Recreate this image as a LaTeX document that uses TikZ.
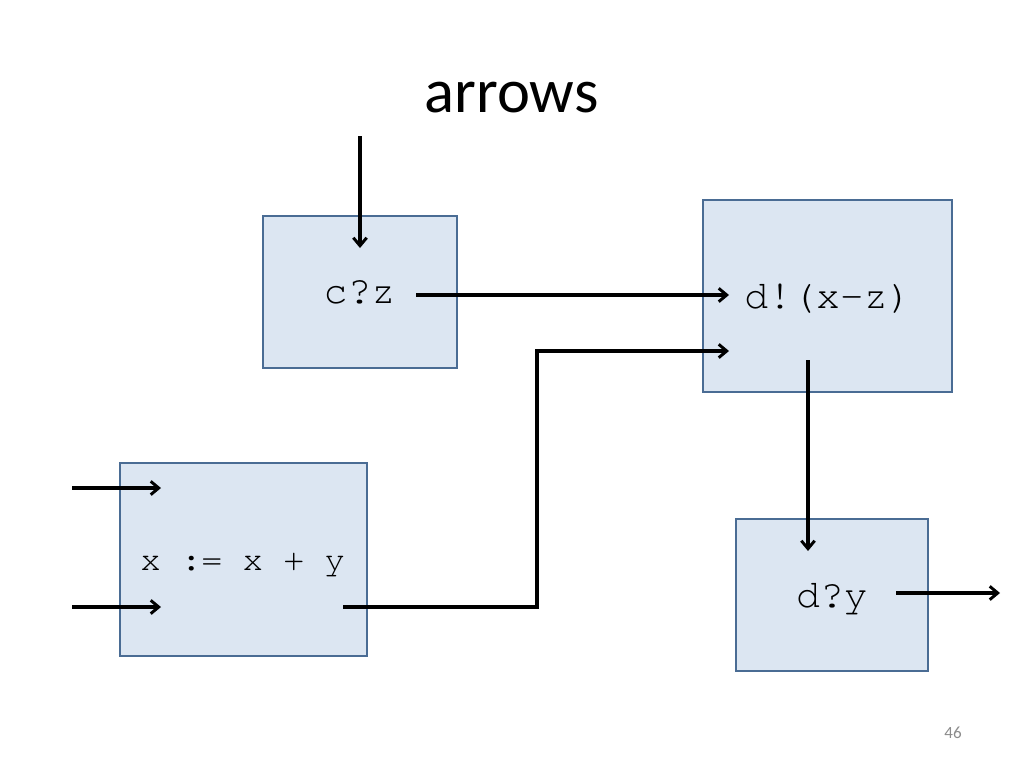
\documentclass[tikz,border=0pt]{standalone}
\usepackage{fontspec}
\setmainfont{Carlito}
\newfontfamily\codefont{TeX Gyre Cursor}
\usetikzlibrary{arrows.meta}
\definecolor{boxfill}{HTML}{DCE6F2}
\definecolor{boxline}{HTML}{4A6C94}
\definecolor{pagegray}{HTML}{8C8C8C}
\begin{document}
\begin{tikzpicture}[x=0.75pt,y=-0.75pt,
  procbox/.style={draw=boxline,fill=boxfill,line width=2pt,inner sep=0pt},
  codetext/.style={font=\codefont\fontsize{29.9}{32}\selectfont,anchor=base,inner sep=0pt},
  flow/.style={line width=2.3pt,-{Straight Barb[length=6pt,width=10pt,line width=2.2pt]}}]
\useasboundingbox (0,0) rectangle (1024,768);
% title
\node[font=\fontsize{46.9}{50}\selectfont,anchor=base,inner sep=0pt] (title) at (511.5,112) {arrows};
% boxes
\node[procbox,minimum width=194*0.75pt,minimum height=152*0.75pt] (bc) at (360,292) {};
\node[procbox,minimum width=249*0.75pt,minimum height=192*0.75pt] (bd) at (827.5,296) {};
\node[procbox,minimum width=247*0.75pt,minimum height=193*0.75pt] (bx) at (243.5,559.5) {};
\node[procbox,minimum width=192*0.75pt,minimum height=152*0.75pt] (by) at (832,595) {};
% texts
\node[codetext] (tc) at (359.5,303) {c?z};
\node[codetext,anchor=base west] (td) at (744,308) {d!(x-z)};
\node[codetext,anchor=base west,font=\codefont\fontsize{25.6}{28}\selectfont] (tx) at (140,570) {x := x + y};
\node[codetext] (ty) at (832,607) {d?y};
\node[font=\fontsize{12.8}{14}\selectfont,text=pagegray,anchor=base,inner sep=0pt] (pg) at (953,738) {46};
% connector points
\coordinate (inTop) at (360,136);
\coordinate (inTopEnd) at (360,248);
\coordinate (czOut) at (416,295);
\coordinate (dIn1) at (729,295);
\coordinate (xOut) at (343,607);
\coordinate (bend1) at (537,607);
\coordinate (bend2) at (537,351);
\coordinate (dIn2) at (729,351);
\coordinate (dOut) at (808,360);
\coordinate (yIn) at (808,551);
\coordinate (yOut) at (896,593);
\coordinate (yOutEnd) at (1000,593);
\coordinate (xIn1a) at (72,488);
\coordinate (xIn1b) at (161,488);
\coordinate (xIn2a) at (72,607);
\coordinate (xIn2b) at (161,607);
% connectors
\draw[flow] (inTop) -- (inTopEnd);
\draw[flow] (czOut) -- (dIn1);
\draw[flow] (xOut) -- (bend1) -- (bend2) -- (dIn2);
\draw[flow] (dOut) -- (yIn);
\draw[flow] (yOut) -- (yOutEnd);
\draw[flow] (xIn1a) -- (xIn1b);
\draw[flow] (xIn2a) -- (xIn2b);
\end{tikzpicture}
\end{document}
